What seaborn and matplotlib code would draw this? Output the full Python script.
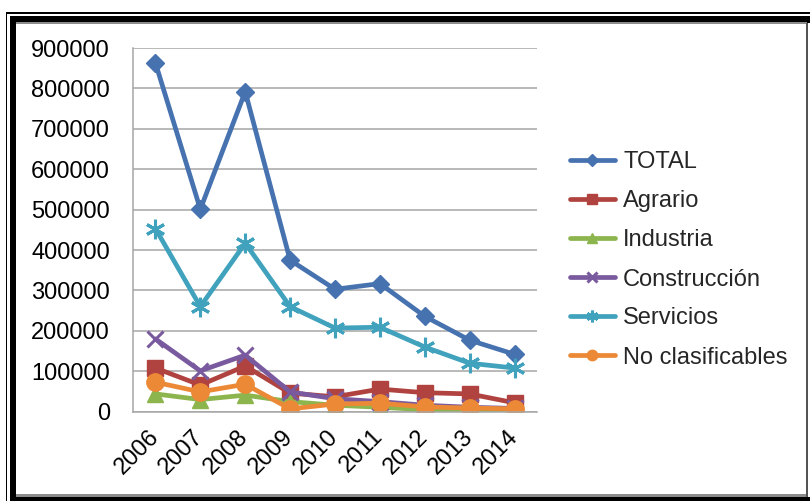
import numpy as np
import pandas as pd
import matplotlib
matplotlib.use("Agg")
import matplotlib.pyplot as plt
from matplotlib.patches import Rectangle
import seaborn as sns

years = [2006, 2007, 2008, 2009, 2010, 2011, 2012, 2013, 2014]
total = [863000, 501000, 792000, 375000, 303000, 317000, 236000, 177000, 142000]
agrario = [108000, 66000, 113000, 46000, 37000, 56000, 47000, 44000, 22000]
industria = [44000, 30000, 41000, 25000, 16000, 11000, 5000, 2000, 2000]
construccion = [180000, 101000, 140000, 49000, 32000, 25000, 16000, 11000, 8000]
servicios = [453000, 260000, 417000, 260000, 207000, 209000, 160000, 120000, 108000]
no_clasificables = [73000, 49000, 68000, 7000, 19000, 21000, 12000, 9000, 7000]

series_names = ["TOTAL", "Agrario", "Industria", "Construcción", "Servicios", "No clasificables"]
series_values = [total, agrario, industria, construccion, servicios, no_clasificables]
y_ticks = [0, 100000, 200000, 300000, 400000, 500000, 600000, 700000, 800000, 900000]

colors = ["#4672B0", "#B0433F", "#8DB54E", "#7A5A9E", "#40A2BC", "#EC8936"]
markers = ["D", "s", "^", "x", (6, 2, 0), "o"]
msizes = [9.5, 11, 12, 12, 14, 12.5]

sns.set_theme(style="white")
plt.rcParams["font.family"] = ["Liberation Sans", "DejaVu Sans"]

W, H = 810, 501
fig = plt.figure(figsize=(W / 100, H / 100), dpi=100)


def fx(x):
    return x / W


def fy(y):
    return 1 - y / H


ax = fig.add_axes([fx(133), fy(411.7), fx(537) - fx(133), fy(48) - fy(411.7)])

df = pd.DataFrame({
    "year": np.tile(years, len(series_names)),
    "value": np.concatenate(series_values),
    "series": np.repeat(series_names, len(years)),
})

for name, col, mk, ms in zip(series_names, colors, markers, msizes):
    sub = df[df["series"] == name]
    sns.lineplot(data=sub, x="year", y="value", ax=ax, color=col, linewidth=3.4,
                 marker=mk, markersize=ms, markeredgecolor=col,
                 markeredgewidth=2.2 if mk in ("x", (6, 2, 0)) else 1.0,
                 label=name)

ax.set_xlim(2005.5, 2014.5)
ax.set_ylim(0, 900000)
ax.set_yticks(y_ticks)
ax.set_yticklabels([str(v) for v in y_ticks])
ax.set_xticks(years)
ax.set_xticklabels([str(y) for y in years], rotation=45, ha="right", va="center",
                   rotation_mode="anchor")
ax.set_xlabel("")
ax.set_ylabel("")
ax.tick_params(axis="y", length=0, pad=16.5, labelsize=17, labelcolor="black")
ax.tick_params(axis="x", length=0, pad=15.5, labelsize=17, labelcolor="black")
ax.yaxis.grid(True, color="#A6A6A6", linewidth=1.1)
ax.xaxis.grid(False)
ax.set_axisbelow(True)
for side in ("top", "right"):
    ax.spines[side].set_visible(False)
for side in ("left", "bottom"):
    ax.spines[side].set_color("#A6A6A6")
    ax.spines[side].set_linewidth(1.1)

handles, labels = ax.get_legend_handles_labels()
if ax.get_legend():
    ax.get_legend().remove()
leg = fig.legend(handles, labels, loc="center left", bbox_to_anchor=(fx(570), fy(260)),
                 frameon=False, fontsize=17, borderpad=0, borderaxespad=0,
                 handlelength=1.9, handletextpad=0.35, labelspacing=0.72,
                 markerscale=0.6)


def rect(x0, y0, x1, y1, **kw):
    fig.add_artist(Rectangle((fx(x0), fy(y1)), fx(x1) - fx(x0), fy(y0) - fy(y1),
                             transform=fig.transFigure, **kw))


# outer chart frame: thin outer line, thick black border, grey inner edge
rect(6, 12, 810, 13.5, color="black", lw=0)
rect(6, 12, 7.5, 501, color="black", lw=0)
rect(10, 16, 810, 22.5, color="black", lw=0)
rect(10, 16, 16, 501, color="black", lw=0)
rect(10, 496.5, 810, 501, color="black", lw=0)
rect(16, 493.5, 807, 496.5, color="#8C8C8C", lw=0)
rect(16, 22.5, 807, 23.5, color="#8C8C8C", lw=0)
rect(805.5, 22.5, 808, 496.5, color="#555555", lw=0)

fig.savefig("out.png", dpi=100)
